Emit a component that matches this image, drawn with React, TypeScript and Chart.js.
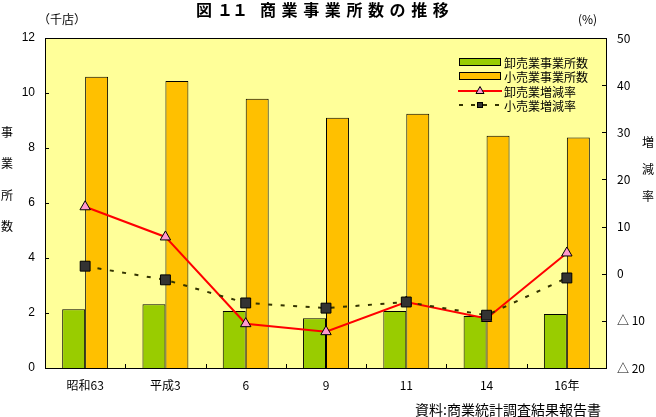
import React, { useEffect, useRef } from "react";
import { Chart, registerables } from "chart.js";

Chart.register(...registerables);

const categories = ["昭和63", "平成3", "6", "9", "11", "14", "16年"];
const wholesaleCount = [2.14, 2.32, 2.07, 1.81, 2.07, 1.89, 1.96];
const retailCount = [10.59, 10.44, 9.79, 9.1, 9.25, 8.45, 8.38];
const wholesaleRate = [14.2, 7.8, -10.6, -12.3, -6.0, -9.5, 4.4];
const retailRate = [1.6, -1.3, -6.2, -7.3, -6.0, -8.8, -0.9];
const leftTicks = [0, 2, 4, 6, 8, 10, 12];
const rightTicks = [-20, -10, 0, 10, 20, 30, 40, 50];
const legendLabels = ["卸売業事業所数", "小売業事業所数", "卸売業増減率", "小売業増減率"];
const titleParts = ["図", "１", "１", "商", "業", "事", "業", "所", "数", "の", "推", "移"];
const leftUnit = "（千店）";
const rightUnit = "(%)";
const leftAxisTitle = ["事", "業", "所", "数"];
const rightAxisTitle = ["増", "減", "率"];
const sourceText = "資料:商業統計調査結果報告書";

const JP = '"Noto Sans CJK JP", sans-serif';
const NUM = '"Liberation Sans", Arial, sans-serif';

const GREEN = "#99CC00";
const ORANGE = "#FFC000";
const PLOT_BG = "#FFFF99";
const RED = "#FF0000";
const PINK = "#FF99CC";
const SQUARE = "#333333";
const DASH = "#333300";

const decorPlugin = {
  id: "decor",
  beforeDatasetsDraw(chart: any) {
    const { ctx, chartArea: a } = chart;
    ctx.save();
    ctx.fillStyle = PLOT_BG;
    ctx.fillRect(a.left, a.top, a.right - a.left, a.bottom - a.top);
    ctx.strokeStyle = "#000";
    ctx.lineWidth = 1;
    ctx.strokeRect(a.left + 0.5, a.top + 0.5, a.right - a.left - 1, a.bottom - a.top);
    const y = chart.scales.y;
    const y1 = chart.scales.y1;
    const x = chart.scales.x;
    ctx.beginPath();
    leftTicks.forEach((v) => {
      const py = Math.round(y.getPixelForValue(v)) + 0.5;
      ctx.moveTo(a.left, py);
      ctx.lineTo(a.left + 4, py);
    });
    rightTicks.forEach((v) => {
      const py = Math.round(y1.getPixelForValue(v)) + 0.5;
      ctx.moveTo(a.right - 5, py);
      ctx.lineTo(a.right, py);
    });
    for (let i = 1; i < categories.length; i++) {
      const px = Math.round((x.getPixelForValue(i - 1) + x.getPixelForValue(i)) / 2) + 0.5;
      ctx.moveTo(px, a.bottom);
      ctx.lineTo(px, a.bottom - 4);
    }
    ctx.stroke();
    ctx.restore();
  },
  afterDraw(chart: any) {
    const { ctx } = chart;
    ctx.save();
    ctx.fillStyle = "#000";
    // title
    ctx.font = `bold 16px ${JP}`;
    ctx.textBaseline = "middle";
    ctx.textAlign = "left";
    const starts = [196, 217, 232];
    titleParts.forEach((c, i) => {
      const px = i < 3 ? starts[i] : 260 + (i - 3) * 21.6;
      ctx.fillText(c, px, 10);
    });
    ctx.font = `12px ${JP}`;
    ctx.fillText(leftUnit, 38, 19);
    ctx.fillText(rightUnit, 578, 19);
    ctx.textAlign = "center";
    leftAxisTitle.forEach((c, i) => ctx.fillText(c, 7, 132 + i * 31.5));
    rightAxisTitle.forEach((c, i) => ctx.fillText(c, 648, 142 + i * 27));
    ctx.textAlign = "right";
    ctx.font = `14px ${JP}`;
    ctx.fillText(sourceText, 601, 410);

    // legend
    const rows = [62, 76, 91, 105];
    const bx = 459;
    const bw = 42;
    ctx.textAlign = "left";
    ctx.font = `12px ${JP}`;
    ctx.lineWidth = 1;
    ctx.strokeStyle = "#000";
    [GREEN, ORANGE].forEach((col, i) => {
      ctx.fillStyle = col;
      ctx.fillRect(bx, rows[i] - 3.5, bw, 7);
      ctx.strokeRect(bx + 0.5, rows[i] - 3.5, bw - 1, 7);
    });
    ctx.strokeStyle = RED;
    ctx.lineWidth = 2;
    ctx.beginPath();
    ctx.moveTo(bx - 1, rows[2]);
    ctx.lineTo(bx + bw + 1, rows[2]);
    ctx.stroke();
    ctx.fillStyle = PINK;
    ctx.strokeStyle = "#000";
    ctx.lineWidth = 1;
    ctx.beginPath();
    ctx.moveTo(480, rows[2] - 4.5);
    ctx.lineTo(484, rows[2] + 2.5);
    ctx.lineTo(476, rows[2] + 2.5);
    ctx.closePath();
    ctx.fill();
    ctx.stroke();
    ctx.strokeStyle = DASH;
    ctx.lineWidth = 2;
    ctx.setLineDash([4, 8]);
    ctx.beginPath();
    ctx.moveTo(bx, rows[3]);
    ctx.lineTo(bx + bw + 1, rows[3]);
    ctx.stroke();
    ctx.setLineDash([]);
    ctx.fillStyle = SQUARE;
    ctx.strokeStyle = "#000";
    ctx.lineWidth = 1;
    ctx.fillRect(477, rows[3] - 3, 6, 6);
    ctx.strokeRect(477.5, rows[3] - 2.5, 5, 5);
    ctx.fillStyle = "#000";
    legendLabels.forEach((t, i) => ctx.fillText(t, 504, rows[i] + 1));
    ctx.restore();
  },
};

export default function App() {
  const ref = useRef<HTMLCanvasElement>(null);
  useEffect(() => {
    if (!ref.current) return;
    const chart = new Chart(ref.current, {
      type: "bar",
      data: {
        labels: categories,
        datasets: [
          {
            type: "line",
            label: legendLabels[3],
            data: retailRate,
            yAxisID: "y1",
            borderColor: DASH,
            borderWidth: 2,
            borderDash: [4, 8.5],
            pointStyle: "rect",
            pointRadius: 7,
            pointBackgroundColor: SQUARE,
            pointBorderColor: "#000",
            pointBorderWidth: 1,
            fill: false,
            tension: 0,
            order: 0,
          } as any,
          {
            type: "line",
            label: legendLabels[2],
            data: wholesaleRate,
            yAxisID: "y1",
            borderColor: RED,
            borderWidth: 2,
            pointStyle: "triangle",
            pointRadius: 6,
            pointBackgroundColor: PINK,
            pointBorderColor: "#000",
            pointBorderWidth: 1,
            fill: false,
            tension: 0,
            order: 1,
          } as any,
          {
            label: legendLabels[0],
            data: wholesaleCount,
            yAxisID: "y",
            backgroundColor: GREEN,
            borderColor: "#000",
            borderWidth: 1,
            categoryPercentage: 0.572,
            barPercentage: 1,
            order: 2,
          },
          {
            label: legendLabels[1],
            data: retailCount,
            yAxisID: "y",
            backgroundColor: ORANGE,
            borderColor: "#000",
            borderWidth: 1,
            categoryPercentage: 0.572,
            barPercentage: 1,
            order: 3,
          },
        ],
      },
      options: {
        responsive: false,
        animation: false,
        events: [],
        layout: { padding: { top: 38, left: 0, right: 0, bottom: 0 } },
        plugins: {
          legend: { display: false },
          tooltip: { enabled: false },
          title: { display: false },
        },
        scales: {
          x: {
            grid: { display: false, drawTicks: false },
            border: { display: false },
            ticks: {
              color: "#000",
              font: { family: JP, size: 12 },
              padding: 10,
              maxRotation: 0,
              autoSkip: false,
            },
            afterFit: (s: any) => {
              s.height = 49;
            },
          },
          y: {
            position: "left",
            min: 0,
            max: 12,
            grid: { display: false, drawTicks: false },
            border: { display: false },
            ticks: {
              stepSize: 2,
              color: "#000",
              font: { family: NUM, size: 12 },
              padding: 10,
            },
            afterFit: (s: any) => {
              s.width = 45;
            },
          },
          y1: {
            position: "right",
            min: -20,
            max: 50,
            grid: { display: false, drawTicks: false },
            border: { display: false },
            ticks: {
              stepSize: 10,
              color: "#000",
              font: { family: JP, size: 12 },
              padding: 10,
              callback: (v: any) => (Number(v) < 0 ? "△ " + -Number(v) : String(v)),
            },
            afterFit: (s: any) => {
              s.width = 49;
            },
          },
        },
      },
      plugins: [decorPlugin],
    });
    return () => chart.destroy();
  }, []);
  return (
    <div style={{ position: "absolute", left: 0, top: 0, width: 656, height: 417, background: "#fff" }}>
      <canvas ref={ref} width={656} height={417} />
    </div>
  );
}
